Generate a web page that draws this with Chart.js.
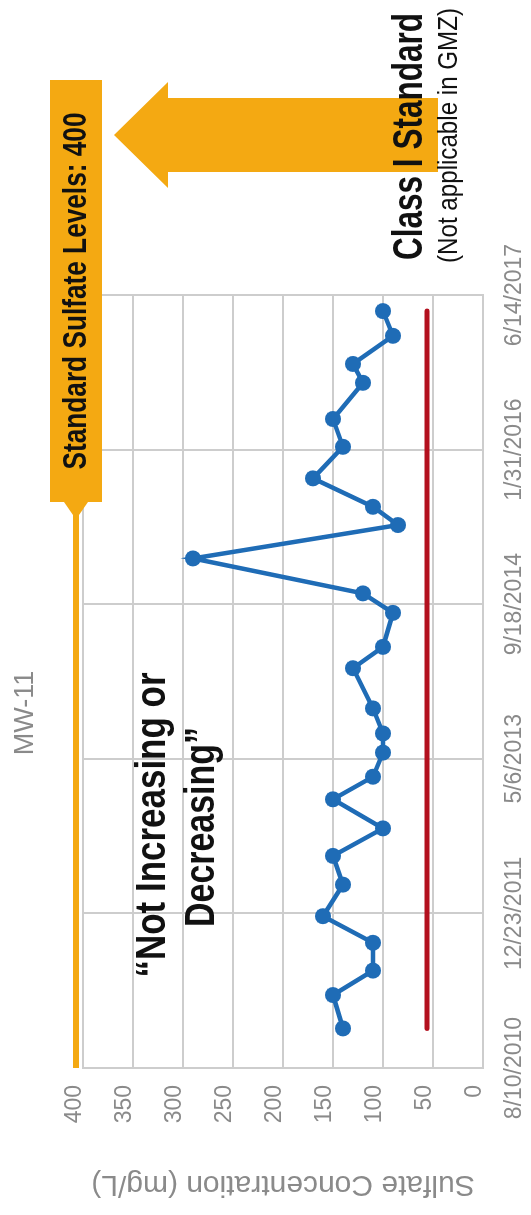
<!DOCTYPE html>
<html>
<head>
<meta charset="utf-8">
<title>MW-11 Sulfate Concentration</title>
<script src="https://cdn.jsdelivr.net/npm/chart.js@4.4.1/dist/chart.umd.min.js"></script>
<style>
  html, body { margin: 0; padding: 0; background: #fff; overflow: hidden; }
  /* the slide is landscape, shown turned a quarter turn counterclockwise */
  #frame {
    position: absolute;
    left: 0;
    top: 0;
    width: 1215px;
    height: 531px;
    transform-origin: 0 0;
    transform: translateY(1215px) rotate(-90deg);
  }
</style>
</head>
<body>
<div id="frame"><canvas id="mwChart" width="1215" height="531"></canvas></div>
<script>
// Sampling dates and sulfate results (mg/L) for MW-11
const sampleDates = [
  '2010-12-16', '2011-04-03', '2011-06-21', '2011-09-19', '2011-12-14',
  '2012-03-25', '2012-06-26', '2012-09-23', '2012-12-26', '2013-03-09',
  '2013-05-26', '2013-07-27', '2013-10-16', '2014-02-23', '2014-05-03',
  '2014-08-21', '2014-10-23', '2015-02-13', '2015-06-01', '2015-07-30',
  '2015-10-30', '2016-02-09', '2016-05-09', '2016-09-03', '2016-11-03',
  '2017-02-02', '2017-04-23'
];
const sulfate = [
  140, 150, 110, 110, 160,
  140, 150, 100, 150, 110,
  100, 100, 110, 130, 100,
  90, 120, 290, 85, 110,
  170, 140, 150, 120, 130,
  90, 100
];

// red reference line, drawn over the sampling period
const redLineValue = 56;
// Class I standard for sulfate
const standardLevel = 400;

// axis ticks
const dateTicks = ['2010-08-10', '2011-12-23', '2013-05-06', '2014-09-18', '2016-01-31', '2017-06-14'];
const valueTicks = [0, 50, 100, 150, 200, 250, 300, 350, 400];

const toDay = s => Date.UTC(+s.slice(0, 4), +s.slice(5, 7) - 1, +s.slice(8, 10)) / 86400000;
const fmtDay = d => {
  const dt = new Date(Math.round(d) * 86400000);
  return (dt.getUTCMonth() + 1) + '/' + dt.getUTCDate() + '/' + dt.getUTCFullYear();
};

const FONT = "'Liberation Sans', Arial, sans-serif";
const GREY_TEXT = '#8a8a8a';
const GRID = '#cdcdcd';
const ORANGE = '#F4A912';
const BLUE = '#1F6CB6';
const RED = '#B3101E';

Chart.defaults.font.family = FONT;

// Title, callout box, arrow and notes sitting on top of the chart
const calloutPlugin = {
  id: 'callouts',
  afterDraw(chart) {
    const ctx = chart.ctx;
    const xs = chart.scales.x;
    const ys = chart.scales.y;
    ctx.save();

    // chart title
    ctx.fillStyle = GREY_TEXT;
    ctx.font = '27px ' + FONT;
    ctx.textAlign = 'center';
    ctx.textBaseline = 'alphabetic';
    ctx.fillText('MW-11', 502, 33);

    // orange standard line with its label box
    const lineY = ys.getPixelForValue(standardLevel) - 7;
    const boxL = 713, boxR = 1135;
    ctx.strokeStyle = ORANGE;
    ctx.lineWidth = 6;
    ctx.beginPath();
    ctx.moveTo(xs.left, lineY);
    ctx.lineTo(boxL - 12, lineY);
    ctx.stroke();

    ctx.fillStyle = ORANGE;
    ctx.beginPath();
    ctx.moveTo(boxL - 13, lineY - 3);
    ctx.lineTo(boxL, lineY - 12);
    ctx.lineTo(boxL, lineY + 12);
    ctx.lineTo(boxL - 13, lineY + 3);
    ctx.closePath();
    ctx.fill();
    ctx.fillRect(boxL, lineY - 26, boxR - boxL, 52);

    ctx.fillStyle = '#111';
    ctx.font = 'bold 34px ' + FONT;
    ctx.textAlign = 'center';
    ctx.fillText('Standard Sulfate Levels: 400', (boxL + boxR) / 2, lineY + 10, 357);

    // big arrow pointing up to the standard
    const ax = 1080;
    ctx.fillStyle = ORANGE;
    ctx.beginPath();
    ctx.moveTo(ax, 114);
    ctx.lineTo(ax + 53, 168);
    ctx.lineTo(ax + 37, 168);
    ctx.lineTo(ax + 37, 438);
    ctx.lineTo(ax - 37, 438);
    ctx.lineTo(ax - 37, 168);
    ctx.lineTo(ax - 53, 168);
    ctx.closePath();
    ctx.fill();

    // notes
    ctx.fillStyle = '#111';
    ctx.font = 'bold 42px ' + FONT;
    ctx.textAlign = 'center';
    ctx.fillText('\u201CNot Increasing or', 390, 165, 305);
    ctx.fillText('Decreasing\u201D', 388, 214, 200);

    ctx.textAlign = 'left';
    ctx.fillText('Class I Standard', 955, 422, 247);
    ctx.font = '28px ' + FONT;
    ctx.fillText('(Not applicable in GMZ)', 952, 457, 255);

    ctx.restore();
  }
};

const ctx = document.getElementById('mwChart').getContext('2d');
new Chart(ctx, {
  type: 'line',
  data: {
    datasets: [
      {
        label: 'MW-11 Sulfate',
        data: sampleDates.map((d, i) => ({ x: toDay(d), y: sulfate[i] })),
        borderColor: BLUE,
        backgroundColor: BLUE,
        borderWidth: 4.5,
        pointRadius: 8,
        pointBorderWidth: 0,
        pointBackgroundColor: BLUE,
        tension: 0
      },
      {
        label: 'Reference',
        data: [
          { x: toDay(sampleDates[0]), y: redLineValue },
          { x: toDay(sampleDates[sampleDates.length - 1]), y: redLineValue }
        ],
        borderColor: RED,
        borderWidth: 5,
        pointRadius: 0,
        borderCapStyle: 'round'
      }
    ]
  },
  options: {
    responsive: false,
    animation: false,
    layout: { padding: { top: 83, right: 295, bottom: 0, left: 0 } },
    plugins: {
      legend: { display: false },
      title: { display: false },
      tooltip: { enabled: false }
    },
    scales: {
      x: {
        type: 'linear',
        min: toDay(dateTicks[0]),
        max: toDay(dateTicks[dateTicks.length - 1]),
        afterBuildTicks: scale => { scale.ticks = dateTicks.map(d => ({ value: toDay(d) })); },
        afterFit: scale => { scale.height = 48; },
        grid: { color: GRID, lineWidth: 2, drawTicks: false },
        border: { color: GRID, width: 2 },
        ticks: {
          color: GREY_TEXT,
          font: { size: 23 },
          padding: 18,
          maxRotation: 0,
          autoSkip: false,
          callback: value => fmtDay(value)
        }
      },
      y: {
        min: 0,
        max: 400,
        afterBuildTicks: scale => { scale.ticks = valueTicks.map(v => ({ value: v })); },
        afterFit: scale => { scale.width = 147; },
        grid: { color: GRID, lineWidth: 2, drawTicks: false },
        border: { color: GRID, width: 2 },
        title: {
          display: true,
          text: 'Sulfate Concentration (mg/L)',
          color: GREY_TEXT,
          font: { size: 30 },
          padding: { top: 13, bottom: 0 }
        },
        ticks: {
          color: GREY_TEXT,
          font: { size: 23 },
          padding: 17,
          labelOffset: -8
        }
      }
    }
  },
  plugins: [calloutPlugin]
});
</script>
</body>
</html>
